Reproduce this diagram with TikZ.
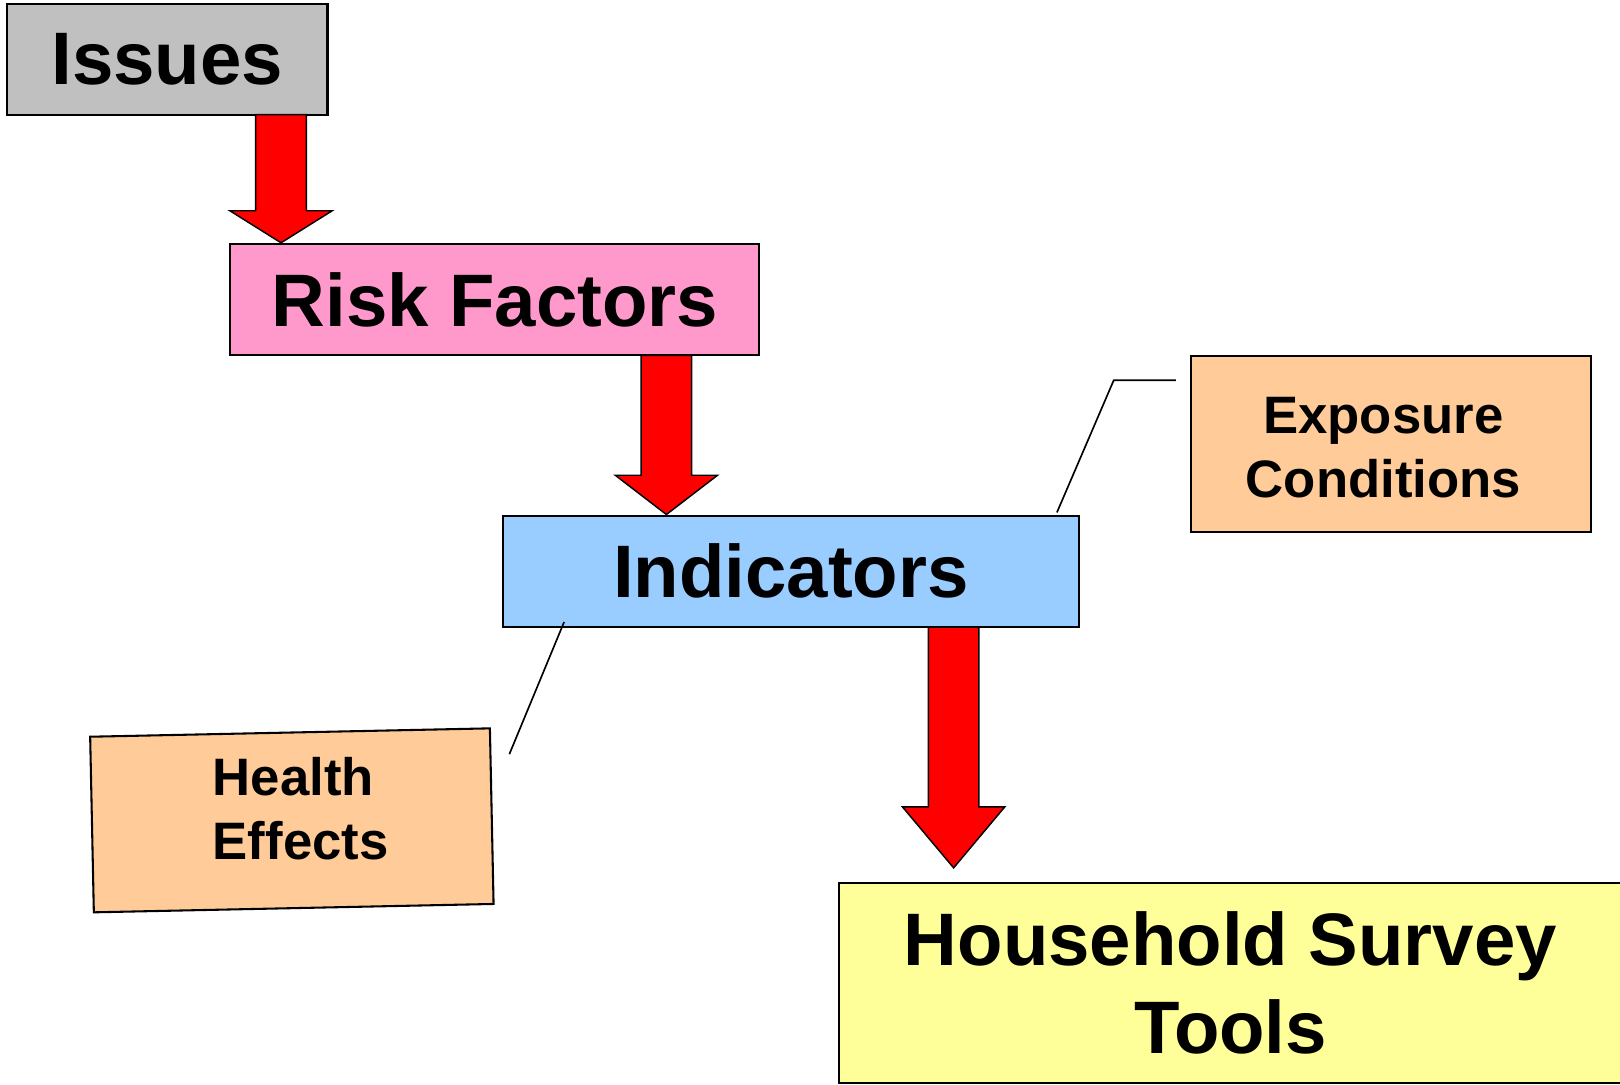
\documentclass[tikz,border=0pt]{standalone}
\usepackage{fontspec}
\setmainfont{Liberation Sans}
\usetikzlibrary{calc}
\definecolor{issuegray}{HTML}{C0C0C0}
\definecolor{riskpink}{HTML}{FF99CC}
\definecolor{indblue}{HTML}{99CCFF}
\definecolor{hhyellow}{HTML}{FFFF99}
\definecolor{peach}{HTML}{FFCC99}
\begin{document}
\begin{tikzpicture}[x=0.5pt,y=-0.5pt,
  box/.style={draw=black, line width=1pt, rectangle, inner sep=0pt,
    font=\bfseries\fontsize{36}{42.5}\selectfont, align=center},
  smalltext/.style={inner sep=0pt, font=\bfseries\fontsize{25.5}{31}\selectfont},
  blockarrow/.style={fill=red, draw=black, line width=0.7pt, line join=miter},
  callout/.style={draw=black, line width=0.8pt}]
\useasboundingbox (0,0) rectangle (1568,1050);

% main boxes
\node[box, fill=issuegray, minimum width=155pt, minimum height=53.5pt] (issues) at (162,57.5) {Issues};
\node[box, fill=riskpink, minimum width=256pt, minimum height=54pt] (risk) at (479,290) {Risk Factors};
\node[box, fill=indblue, minimum width=278.5pt, minimum height=54pt] (ind) at (765.5,553) {Indicators};
\node[box, fill=hhyellow, minimum width=379pt, minimum height=96.5pt] (hh) at (1191,951.5) {Household Survey\\Tools};

% side boxes
\node[box, fill=peach, minimum width=193.5pt, minimum height=85pt] (expbox) at (1346.5,430) {};
\node[smalltext, align=center] (exptext) at (1339,433) {Exposure\\Conditions};
\node[box, fill=peach, minimum width=193.5pt, minimum height=85pt, rotate=1.2] (healthbox) at (282.5,794) {};
\node[smalltext, align=left] (healthtext) at (291,783) {Health\\Effects};

% block arrows
\coordinate (a1top) at (272,111);
\coordinate (a1tip) at (a1top |- risk.north);
\draw[blockarrow] ($(a1top)+(-24.5,0)$) -- ($(a1tip)+(-24.5,-31)$) -- ($(a1tip)+(-49.5,-31)$)
  -- (a1tip) -- ($(a1tip)+(49.5,-31)$) -- ($(a1tip)+(24.5,-31)$) -- ($(a1top)+(24.5,0)$) -- cycle;

\coordinate (a2top) at (645,344);
\coordinate (a2tip) at (a2top |- ind.north);
\draw[blockarrow] ($(a2top)+(-24.5,0)$) -- ($(a2tip)+(-24.5,-38)$) -- ($(a2tip)+(-49.5,-38)$)
  -- (a2tip) -- ($(a2tip)+(49.5,-38)$) -- ($(a2tip)+(24.5,-38)$) -- ($(a2top)+(24.5,0)$) -- cycle;

\coordinate (a3top) at (923,607);
\coordinate (a3tip) at (923,840);
\draw[blockarrow] ($(a3top)+(-24.5,0)$) -- ($(a3tip)+(-24.5,-59)$) -- ($(a3tip)+(-49.5,-59)$)
  -- (a3tip) -- ($(a3tip)+(49.5,-59)$) -- ($(a3tip)+(24.5,-59)$) -- ($(a3top)+(24.5,0)$) -- cycle;

% callout lines
\coordinate (ecA) at (1138,368);
\coordinate (ecB) at (1078,368);
\coordinate (ecC) at (1023,496);
\draw[callout] (ecA) -- (ecB) -- (ecC);
\coordinate (heA) at (546,602);
\coordinate (heB) at (493,730);
\draw[callout] (heA) -- (heB);
\end{tikzpicture}
\end{document}
